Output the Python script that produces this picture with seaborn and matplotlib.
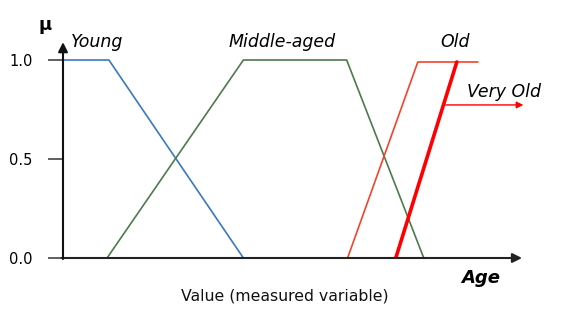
import matplotlib
matplotlib.use("Agg")
import matplotlib.pyplot as plt
import seaborn as sns
import pandas as pd

sns.set_theme(style="white")
plt.rcParams['font.family'] = ['DejaVu Sans']
plt.rcParams['text.color'] = 'black'

# Membership functions (x in arbitrary age units, y = membership mu)
young_x = [0, 10, 39.3]
young_y = [1.0, 1.0, 0.0]
middle_x = [9.6, 39.3, 61.8, 78.6]
middle_y = [0.0, 1.0, 1.0, 0.0]
old_x = [62.0, 77.3, 90.4]
old_y = [0.0, 0.99, 0.99]
veryold_x = [72.5, 85.8]
veryold_y = [0.0, 0.99]
ytick_vals = [0.0, 0.5, 1.0]
ytick_labels = ["0.0", "0.5", "1.0"]

W, H = 564, 319
fig = plt.figure(figsize=(W / 100, H / 100), dpi=100)
left, right, bottom, top = 63, 522, 258, 42
ax = fig.add_axes([left / W, (H - bottom) / H, (right - left) / W, (bottom - top) / H])
ax.set_xlim(0, 100)
ax.set_ylim(0, (bottom - top) / 198)
ax.patch.set_alpha(0)
for s in ax.spines.values():
    s.set_visible(False)

def df(x, y):
    return pd.DataFrame({"x": x, "y": y})

sns.lineplot(data=df(young_x, young_y), x="x", y="y", ax=ax, color="#3a78c2", lw=1.2, sort=False)
sns.lineplot(data=df(middle_x, middle_y), x="x", y="y", ax=ax, color="#4d7a4d", lw=1.2, sort=False)
sns.lineplot(data=df(old_x, old_y), x="x", y="y", ax=ax, color="#f2442a", lw=1.2, sort=False)
sns.lineplot(data=df(veryold_x, veryold_y), x="x", y="y", ax=ax, color="#ff0000", lw=2.6, sort=False)

# axes arrows
ax.annotate("", xy=(100, 0), xytext=(-0.3, 0), xycoords="data",
            arrowprops=dict(arrowstyle="-|>", color="#222222", lw=1.5, mutation_scale=14,
                            shrinkA=0, shrinkB=0), annotation_clip=False)
ax.annotate("", xy=(0, 1.09), xytext=(0, -0.005), xycoords="data",
            arrowprops=dict(arrowstyle="-|>", color="#111111", lw=1.5, mutation_scale=14,
                            shrinkA=0, shrinkB=0), annotation_clip=False)
# "Very Old" arrow
ax.annotate("", xy=(100.3, 0.773), xytext=(83.4, 0.773), xycoords="data",
            arrowprops=dict(arrowstyle="-|>", color="#ff0000", lw=1.0, mutation_scale=10,
                            shrinkA=0, shrinkB=0), annotation_clip=False)

ax.set_yticks(ytick_vals)
ax.set_yticklabels(ytick_labels, fontsize=10.5, color="black")
ax.set_xticks([])
ax.tick_params(axis="y", length=11, width=1.2, color="#444444", pad=11, left=True)
ax.set_xlabel("")
ax.set_ylabel("")

ax.text(1.8, 1.09, "Young", fontsize=12.5, style="italic", ha="left", va="center", color="black")
ax.text(36, 1.09, "Middle-aged", fontsize=12.5, style="italic", ha="left", va="center", color="black")
ax.text(82.2, 1.09, "Old", fontsize=12.5, style="italic", ha="left", va="center", color="black")
ax.text(88, 0.84, "Very Old", fontsize=12.5, style="italic", ha="left", va="center", color="black")

fig.text(45 / W, 1 - 25 / H, "μ", fontsize=13, fontweight="bold", ha="center", va="center", color="black")
fig.text(481 / W, 1 - 278 / H, "Age", fontsize=13, fontweight="bold", style="italic",
         ha="center", va="center", color="black")
fig.text(285 / W, 1 - 296 / H, "Value (measured variable)", fontsize=11.3,
         ha="center", va="center", color="#111111")

fig.savefig("out.png", dpi=100)
